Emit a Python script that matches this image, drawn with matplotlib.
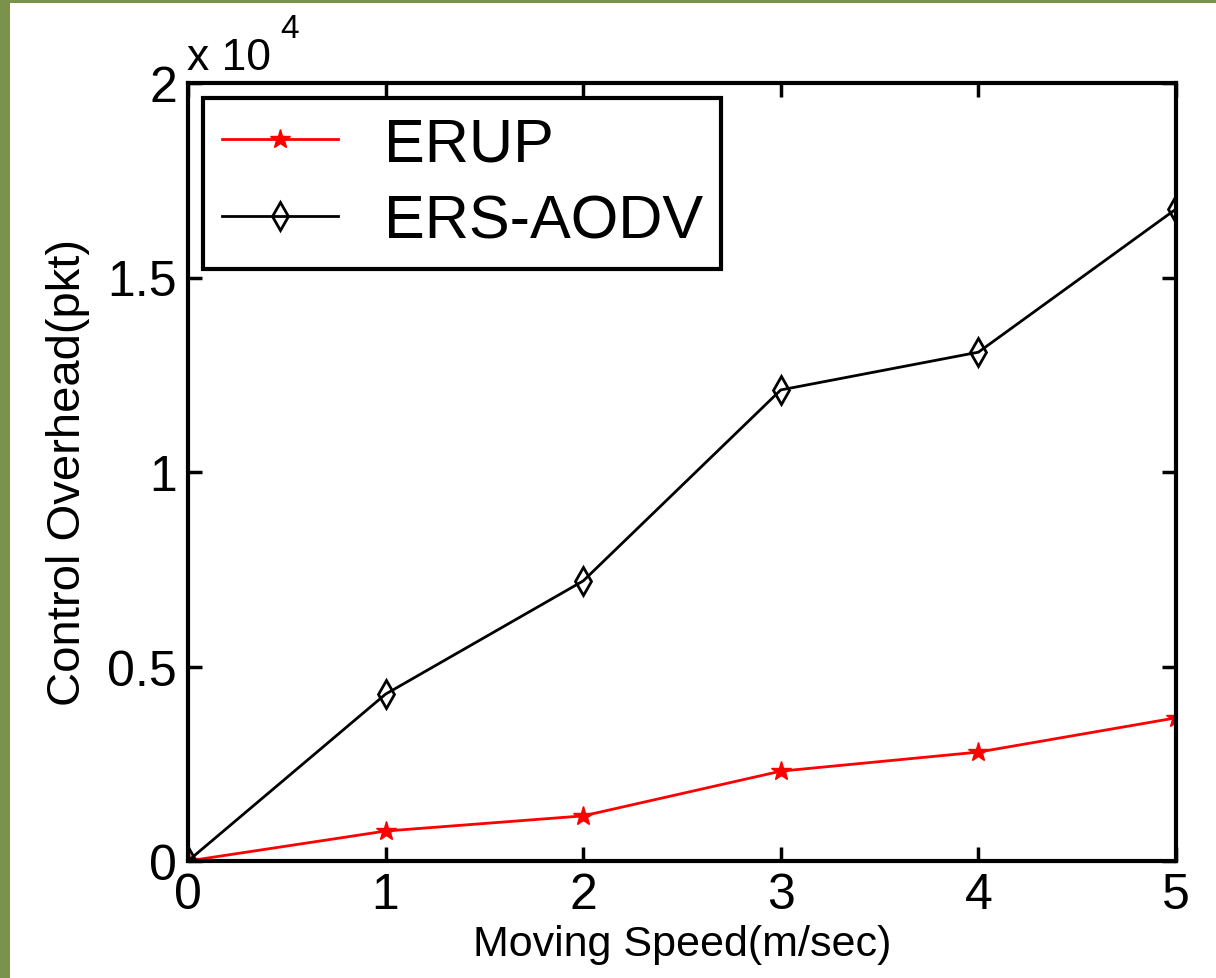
import matplotlib.pyplot as plt
from matplotlib.patches import Rectangle
from matplotlib.ticker import FuncFormatter

plt.rcParams["font.family"] = ["Liberation Sans", "DejaVu Sans"]

speed = [0, 1, 2, 3, 4, 5]
erup = [0, 770, 1160, 2310, 2800, 3680]
ers_aodv = [0, 4290, 7200, 12110, 13080, 16760]
y_ticks = [0, 5000, 10000, 15000, 20000]

green = "#7a9249"
fig = plt.figure(figsize=(12.16, 9.79), dpi=100, facecolor="white")
# green frame strips (left and top), outside the axes
fig.patches.append(Rectangle((0, 0), 10 / 1216, 1, transform=fig.transFigure,
                             facecolor=green, edgecolor="none"))
fig.patches.append(Rectangle((0, 1 - 4 / 979), 1, 4 / 979, transform=fig.transFigure,
                             facecolor=green, edgecolor="none"))

ax = fig.add_axes([188 / 1216, (979 - 862) / 979, (1176 - 188) / 1216, (862 - 84) / 979])
ax.plot(speed, erup, color="red", lw=2, marker="*", ms=15, label="ERUP")
ax.plot(speed, ers_aodv, color="black", lw=2, marker="d", ms=14, mfc="none",
        mew=2, label="ERS-AODV")

ax.set_xlim(0, 5)
ax.set_ylim(0, 20000)
ax.set_xticks(speed)
ax.set_yticks(y_ticks)
ax.yaxis.set_major_formatter(FuncFormatter(lambda v, p: "%g" % (v / 1e4)))
ax.tick_params(direction="in", length=10, width=2.5, labelsize=36,
               top=True, right=True, pad=8)
for s in ax.spines.values():
    s.set_linewidth(3)

ax.set_xlabel("Moving Speed(m/sec)", fontsize=31, labelpad=4)
ax.set_ylabel("Control Overhead(pkt)", fontsize=34, labelpad=12)

# scale note above the axes
fig.text(187 / 1216, 1 - 70 / 979, "x 10", fontsize=32, ha="left", va="baseline")
fig.text(280 / 1216, 1 - 38 / 979, "4", fontsize=24, ha="left", va="baseline")

leg = ax.legend(loc="upper left", fontsize=44, frameon=True, fancybox=False,
                edgecolor="black", framealpha=1, handlelength=1.9,
                borderaxespad=0.25, borderpad=0.3, labelspacing=0.32,
                handletextpad=0.75)
leg.get_frame().set_linewidth(3)

fig.savefig("out.png", dpi=100, facecolor=fig.get_facecolor())
